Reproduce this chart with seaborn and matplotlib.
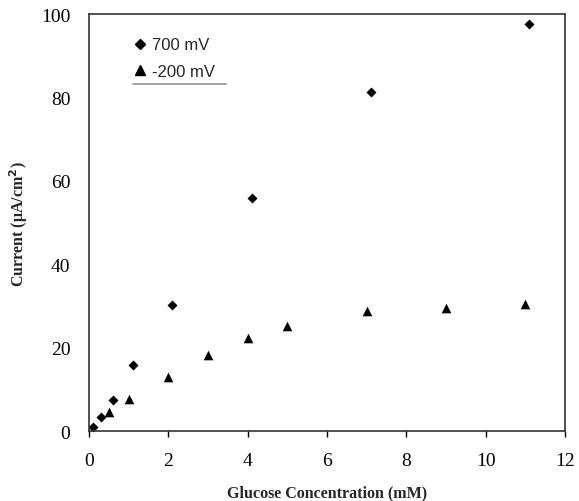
import pandas as pd
import matplotlib
matplotlib.use('Agg')
import matplotlib.pyplot as plt
import seaborn as sns
from matplotlib.lines import Line2D

# data
conc_700 = [0.1, 0.3, 0.6, 1.1, 2.1, 4.1, 7.1, 11.1]
curr_700 = [1.0, 3.5, 7.5, 15.8, 30.2, 55.8, 81.2, 97.5]
conc_200 = [0.5, 1.0, 2.0, 3.0, 4.0, 5.0, 7.0, 9.0, 11.0]
curr_200 = [4.5, 7.7, 13.0, 18.3, 22.3, 25.3, 28.7, 29.5, 30.5]

df700 = pd.DataFrame({'conc': conc_700, 'current': curr_700})
df200 = pd.DataFrame({'conc': conc_200, 'current': curr_200})

sns.set_theme(style='ticks')
plt.rcParams['font.family'] = ['Liberation Serif', 'DejaVu Serif']

fig = plt.figure(figsize=(5.79, 5.02), dpi=100)
ax = fig.add_axes([0.154, 0.139, 0.822, 0.831])

sns.scatterplot(data=df700, x='conc', y='current', marker='D', color='black',
                s=26, linewidth=0, ax=ax)
sns.scatterplot(data=df200, x='conc', y='current', marker='^', color='black',
                s=48, linewidth=0, ax=ax)

ax.set_xlim(0, 12)
ax.set_ylim(0, 100)
ax.set_xticks(range(0, 13, 2))
ax.set_yticks(range(0, 101, 20))
ax.tick_params(axis='x', labelsize=14, direction='out', length=4, width=1,
               colors='black', pad=11)
ax.tick_params(axis='y', labelsize=14, length=0, colors='black', pad=13.5)
for sp in ax.spines.values():
    sp.set_visible(True)
    sp.set_color('#333333')
    sp.set_linewidth(1.2)

ax.set_xlabel('Glucose Concentration (mM)', fontsize=11.5, fontweight='bold', labelpad=11)
ax.set_ylabel('Current (\u03bcA/cm$^\\mathbf{2}$)', fontsize=11.5, fontweight='bold', labelpad=8)

handles = [
    Line2D([], [], marker='D', color='black', linestyle='none', markersize=5),
    Line2D([], [], marker='^', color='black', linestyle='none', markersize=7),
]
leg = ax.legend(handles, ['700 mV', '-200 mV'], loc='upper left',
                bbox_to_anchor=(0.058, 0.98), frameon=False, handletextpad=0.2,
                handlelength=1.0, labelspacing=0.7,
                prop={'family': 'Liberation Sans', 'size': 12})
# grey rule under the legend
ax.add_line(Line2D([0.092, 0.287], [0.832, 0.832], transform=ax.transAxes,
                   color='#999999', linewidth=1.3))

plt.savefig('out.png', dpi=100)
